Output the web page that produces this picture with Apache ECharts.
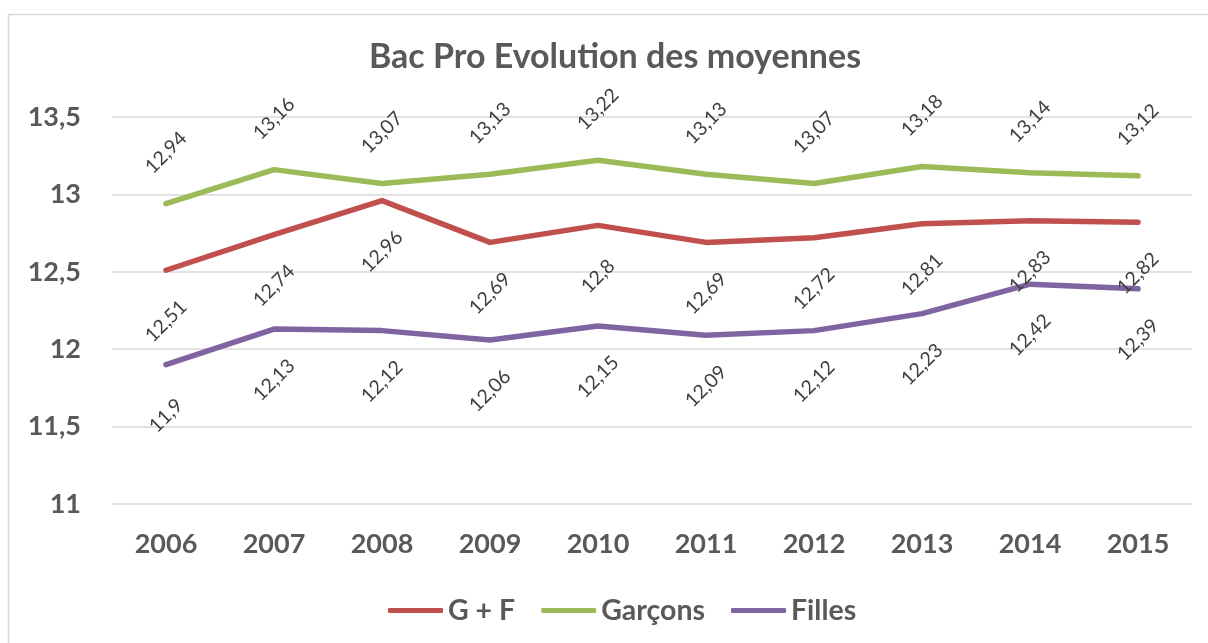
<!DOCTYPE html>
<html>
<head>
<meta charset="utf-8">
<script src="https://cdn.jsdelivr.net/npm/echarts@6/dist/echarts.min.js"></script>
<style>
html,body{margin:0;padding:0;background:#fff;}
#chart{width:1208px;height:643px;}
</style>
</head>
<body>
<div id="chart"></div>
<script>
const categories = ['2006','2007','2008','2009','2010','2011','2012','2013','2014','2015'];
const gf = [12.51, 12.74, 12.96, 12.69, 12.8, 12.69, 12.72, 12.81, 12.83, 12.82];
const garcons = [12.94, 13.16, 13.07, 13.13, 13.22, 13.13, 13.07, 13.18, 13.14, 13.12];
const filles = [11.9, 12.13, 12.12, 12.06, 12.15, 12.09, 12.12, 12.23, 12.42, 12.39];
const seriesNames = ['G + F', 'Garçons', 'Filles'];
const titleText = 'Bac Pro Evolution des moyennes';

const FONT = 'Lato';
const fmt = v => String(v).replace('.', ',');

function mkLabel(pos) {
  return {
    show: true,
    position: pos,
    distance: 50,
    rotate: 45,
    align: 'center',
    verticalAlign: 'middle',
    color: '#404040',
    fontFamily: FONT,
    fontSize: 19.5,
    formatter: p => fmt(p.value)
  };
}

function mkSeries(name, data, color, pos) {
  return {
    name: name,
    type: 'line',
    data: data,
    symbol: 'circle',
    symbolSize: 2,
    showSymbol: true,
    lineStyle: { color: color, width: 5.5, cap: 'round', join: 'round' },
    itemStyle: { color: color },
    label: mkLabel(pos),
    emphasis: { disabled: true },
    animation: false
  };
}

const chart = echarts.init(document.getElementById('chart'), null, { renderer: 'canvas' });
chart.setOption({
  backgroundColor: '#fff',
  animation: false,
  graphic: [{
    type: 'rect',
    shape: { x: 8.5, y: 14.5, width: 1250, height: 700 },
    style: { fill: 'none', stroke: '#d9d9d9', lineWidth: 1.5 },
    silent: true
  }],
  title: {
    text: titleText,
    left: 610,
    top: 35,
    textAlign: 'center',
    textStyle: { fontFamily: FONT, fontWeight: 'bold', fontSize: 34, color: '#595959' }
  },
  legend: {
    data: seriesNames,
    top: 591,
    left: 383,
    icon: 'roundRect',
    itemWidth: 55,
    itemHeight: 5,
    itemGap: 26,
    textStyle: { fontFamily: FONT, fontWeight: 'bold', fontSize: 28.5, color: '#595959' }
  },
  grid: { left: 112, right: 16, top: 117, bottom: 139, containLabel: false },
  xAxis: {
    type: 'category',
    data: categories,
    boundaryGap: true,
    axisLine: { show: false },
    axisTick: { show: false },
    axisLabel: { fontFamily: FONT, fontWeight: 'bold', fontSize: 27, color: '#595959', margin: 27 }
  },
  yAxis: {
    type: 'value',
    min: 11,
    max: 13.5,
    interval: 0.5,
    axisLine: { show: false },
    axisTick: { show: false },
    splitLine: { lineStyle: { color: '#d9d9d9', width: 1.5 } },
    axisLabel: { fontFamily: FONT, fontWeight: 'bold', fontSize: 27, color: '#595959', margin: 31, formatter: v => fmt(v) }
  },
  series: [
    mkSeries(seriesNames[0], gf, '#C0504D', 'bottom'),
    mkSeries(seriesNames[1], garcons, '#9BBB59', 'top'),
    mkSeries(seriesNames[2], filles, '#8064A2', 'bottom')
  ]
});
</script>
</body>
</html>
